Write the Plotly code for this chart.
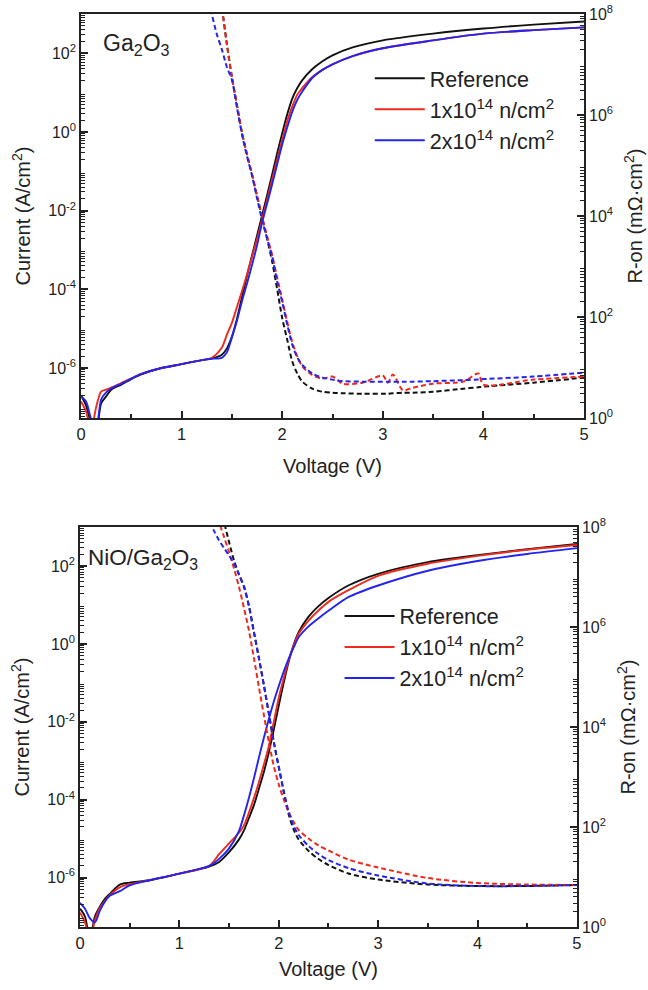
import numpy as np
import plotly.graph_objects as go

# ---------------- Ga2O3 panel ----------------
# Forward current density, stored as log10(J [A/cm^2])
v_ga_iv = [0, 0.05, 0.1, 0.15, 0.2, 0.25, 0.3, 0.4, 0.5, 0.6, 0.8, 1.0, 1.2, 1.3, 1.4, 1.45,
           1.5, 1.55, 1.6, 1.65, 1.7, 1.75, 1.8, 1.85, 1.9, 1.95, 2.0, 2.05, 2.1, 2.15, 2.2,
           2.3, 2.4, 2.5, 2.7, 3.0, 3.5, 4.0, 4.5, 5.0]
logj_ga_ref = [-6.70, -6.95, -7.4, -7.6, -6.9, -6.72, -6.55, -6.42, -6.28, -6.16, -6.0, -5.9, -5.8,
               -5.76, -5.66, -5.5, -5.2, -4.75, -4.2, -3.65, -3.14, -2.63, -2.12, -1.61, -1.08,
               -0.54, -0.03, 0.45, 0.85, 1.12, 1.32, 1.6, 1.8, 1.95, 2.15, 2.33, 2.5, 2.63, 2.73, 2.81]
logj_ga_1e14 = [-6.85, -7.1, -7.6, -7.0, -6.6, -6.55, -6.5, -6.38, -6.26, -6.15, -6.0, -5.9, -5.8,
                -5.74, -5.48, -5.15, -4.85, -4.45, -4.05, -3.62, -3.17, -2.72, -2.22, -1.72, -1.2,
                -0.7, -0.2, 0.28, 0.65, 0.95, 1.12, 1.4, 1.58, 1.72, 1.93, 2.13, 2.33, 2.5, 2.59, 2.66]
logj_ga_2e14 = [-6.72, -6.85, -7.3, -7.6, -6.8, -6.62, -6.52, -6.4, -6.27, -6.15, -6.0, -5.9, -5.8,
                -5.76, -5.74, -5.6, -5.22, -4.8, -4.3, -3.85, -3.38, -2.88, -2.3, -1.82, -1.33,
                -0.82, -0.32, 0.12, 0.52, 0.82, 1.03, 1.38, 1.58, 1.72, 1.93, 2.13, 2.33, 2.5, 2.59, 2.66]

# Specific on-resistance, stored as log10(R [mOhm cm^2])
v_ga_ron = [1.25, 1.3, 1.35, 1.4, 1.45, 1.5, 1.55, 1.6, 1.65, 1.7, 1.75, 1.8, 1.85, 1.9, 1.95,
            2.0, 2.05, 2.1, 2.15, 2.2, 2.3, 2.4, 2.5, 2.6, 2.8, 3.0, 3.05, 3.1, 3.2, 3.3, 3.5,
            3.8, 3.95, 4.0, 4.5, 5.0]
logr_ga_ref = [9.5, 9.2, 8.5, 8.1, 7.4, 6.75, 6.2, 5.65, 5.22, 4.82, 4.4, 3.98, 3.55, 3.1, 2.55,
               1.98, 1.55, 1.12, 0.88, 0.72, 0.58, 0.52, 0.5, 0.49, 0.48, 0.48, 0.48, 0.49, 0.5,
               0.5, 0.52, 0.58, 0.61, 0.62, 0.7, 0.8]
logr_ga_1e14 = [9.5, 9.2, 8.5, 8.1, 7.4, 6.75, 6.2, 5.65, 5.22, 4.82, 4.4, 3.98, 3.6, 3.22, 2.78,
                2.35, 1.9, 1.5, 1.22, 1.02, 0.85, 0.78, 0.82, 0.68, 0.7, 0.84, 0.7, 0.86, 0.55,
                0.6, 0.68, 0.72, 0.88, 0.66, 0.76, 0.82]
logr_ga_2e14 = [8.4, 8.0, 7.6, 7.3, 6.95, 6.7, 6.15, 5.62, 5.18, 4.8, 4.35, 3.92, 3.55, 3.2, 2.7,
                2.3, 1.85, 1.45, 1.2, 1.05, 0.88, 0.8, 0.76, 0.73, 0.72, 0.72, 0.72, 0.72, 0.72,
                0.72, 0.73, 0.75, 0.76, 0.77, 0.82, 0.9]

# ---------------- NiO/Ga2O3 panel ----------------
v_nio_iv = [0, 0.05, 0.1, 0.15, 0.2, 0.25, 0.3, 0.4, 0.5, 0.7, 1.0, 1.3, 1.4, 1.5, 1.6, 1.65,
            1.7, 1.75, 1.8, 1.85, 1.9, 1.95, 2.0, 2.05, 2.1, 2.15, 2.2, 2.3, 2.4, 2.5, 2.7, 3.0,
            3.5, 4.0, 4.5, 5.0]
logj_nio_ref = [-6.8, -7.0, -7.6, -7.0, -6.75, -6.55, -6.42, -6.18, -6.13, -6.07, -5.9, -5.72,
                -5.6, -5.35, -5.02, -4.79, -4.47, -4.14, -3.72, -3.29, -2.78, -2.2, -1.58, -0.99,
                -0.45, -0.02, 0.3, 0.7, 0.97, 1.18, 1.5, 1.8, 2.1, 2.28, 2.43, 2.57]
logj_nio_1e14 = [-6.9, -7.15, -7.6, -7.1, -6.78, -6.6, -6.45, -6.25, -6.17, -6.07, -5.9, -5.7,
                 -5.4, -5.12, -4.85, -4.66, -4.33, -3.96, -3.55, -3.1, -2.62, -2.0, -1.38, -0.88,
                 -0.42, -0.04, 0.26, 0.6, 0.86, 1.08, 1.38, 1.75, 2.06, 2.26, 2.42, 2.54]
logj_nio_2e14 = [-6.65, -6.8, -7.05, -7.15, -6.85, -6.62, -6.47, -6.35, -6.2, -6.07, -5.9, -5.7,
                 -5.52, -5.25, -4.8, -4.4, -3.95, -3.45, -2.92, -2.41, -1.93, -1.48, -1.08, -0.71,
                 -0.38, -0.09, 0.17, 0.45, 0.66, 0.85, 1.2, 1.5, 1.88, 2.13, 2.31, 2.46]

v_nio_ron = [1.3, 1.35, 1.4, 1.45, 1.5, 1.55, 1.6, 1.65, 1.7, 1.75, 1.8, 1.85, 1.9, 1.95, 2.0,
             2.05, 2.1, 2.15, 2.2, 2.3, 2.4, 2.5, 2.7, 3.0, 3.5, 4.0, 4.5, 5.0]
logr_nio_ref = [9.3, 9.0, 8.5, 8.1, 7.7, 7.33, 7.05, 6.8, 6.42, 5.9, 5.38, 4.84, 4.27, 3.7, 3.2,
                2.7, 2.25, 1.95, 1.75, 1.52, 1.36, 1.24, 1.07, 0.95, 0.85, 0.82, 0.82, 0.84]
logr_nio_1e14 = [8.8, 8.45, 8.1, 7.8, 7.5, 7.17, 6.8, 6.38, 5.93, 5.38, 4.8, 4.24, 3.7, 3.22,
                 2.85, 2.55, 2.3, 2.1, 1.94, 1.77, 1.63, 1.53, 1.35, 1.19, 0.98, 0.88, 0.85, 0.84]
logr_nio_2e14 = [8.1, 7.92, 7.73, 7.58, 7.43, 7.27, 7.05, 6.82, 6.42, 5.9, 5.38, 4.84, 4.27, 3.7,
                 3.2, 2.72, 2.3, 2.02, 1.84, 1.62, 1.46, 1.34, 1.18, 1.03, 0.87, 0.82, 0.82, 0.84]

series_names = ["Reference", "1x10<sup>14</sup> n/cm<sup>2</sup>", "2x10<sup>14</sup> n/cm<sup>2</sup>"]
series_colors = ["#111111", "#ee2a1e", "#2424f0"]

# Axis ticks: every decade gets a long tick, every second decade a label
x_tickvals = [0, 1, 2, 3, 4, 5]
j_label_exp = [-6, -4, -2, 0, 2]
j_plain_exp = [-7, -5, -3, -1, 1, 3]
r_label_exp = [0, 2, 4, 6, 8]
r_plain_exp = [1, 3, 5, 7]

FONT = "Arial, Liberation Sans, Helvetica, sans-serif"
INK = "#222222"

fig = go.Figure()

panels = [
    dict(x="x", yj="y", yr="y2", legend="legend",
         v_iv=v_ga_iv, logj=[logj_ga_ref, logj_ga_1e14, logj_ga_2e14],
         v_ron=v_ga_ron, logr=[logr_ga_ref, logr_ga_1e14, logr_ga_2e14]),
    dict(x="x2", yj="y3", yr="y4", legend="legend2",
         v_iv=v_nio_iv, logj=[logj_nio_ref, logj_nio_1e14, logj_nio_2e14],
         v_ron=v_nio_ron, logr=[logr_nio_ref, logr_nio_1e14, logr_nio_2e14]),
]

for p in panels:
    for name, color, lj in zip(series_names, series_colors, p["logj"]):
        fig.add_trace(go.Scatter(
            x=p["v_iv"], y=np.power(10.0, lj), mode="lines", name=name,
            line=dict(color=color, width=1.9, shape="spline", smoothing=0.8),
            xaxis=p["x"], yaxis=p["yj"], legend=p["legend"], showlegend=True))
    for name, color, lr in zip(series_names, series_colors, p["logr"]):
        fig.add_trace(go.Scatter(
            x=p["v_ron"], y=np.power(10.0, lr), mode="lines", name=name,
            line=dict(color=color, width=2.0, dash="5px,3px", shape="spline", smoothing=0.8),
            xaxis=p["x"], yaxis=p["yr"], legend=p["legend"], showlegend=False))

minor_log = [m * 10.0 ** e for e in range(-8, 9) for m in range(2, 10)]
TICKLEN, MINORLEN = 7, 4

def x_axis(domain, anchor, standoff):
    return dict(domain=domain, anchor=anchor, range=[0, 5], tickmode="array", tickvals=x_tickvals,
                ticks="inside", ticklen=TICKLEN, tickwidth=1.5, tickcolor=INK,
                minor=dict(dtick=0.5, tick0=0, ticks="inside", ticklen=MINORLEN, tickwidth=1.5,
                           tickcolor=INK),
                showline=True, linewidth=1.6, linecolor=INK, mirror=True,
                showgrid=False, zeroline=False, automargin=False,
                tickfont=dict(family=FONT, size=16.5, color=INK),
                title=dict(text="Voltage (V)", font=dict(family=FONT, size=20, color=INK),
                           standoff=standoff))

def log_axis(rng, label_exp, side, title, standoff):
    return dict(type="log", range=rng, side=side,
                tickmode="array", tickvals=[10.0 ** e for e in label_exp],
                ticktext=["10<sup>%d</sup>" % e for e in label_exp],
                ticks="inside", ticklen=TICKLEN, tickwidth=1.5, tickcolor=INK,
                minor=dict(tickmode="array", tickvals=minor_log, ticks="inside", ticklen=MINORLEN,
                           tickwidth=1, tickcolor=INK),
                showline=True, linewidth=1.6, linecolor=INK, showgrid=False, zeroline=False,
                automargin=False,
                tickfont=dict(family=FONT, size=16, color=INK),
                title=dict(text=title, font=dict(family=FONT, size=20, color=INK), standoff=standoff))

def odd_decades(rng, plain_exp, side, overlay, anchor):
    # unlabeled long ticks on the decades between the labelled ones
    return dict(type="log", range=rng, side=side, overlaying=overlay, anchor=anchor,
                tickmode="array", tickvals=[10.0 ** e for e in plain_exp], showticklabels=False,
                ticks="inside", ticklen=TICKLEN, tickwidth=1.5, tickcolor=INK,
                showline=False, showgrid=False, zeroline=False, automargin=False)

J_RANGE = [-7.27, 3]
R_RANGE = [0, 8]
J_TITLE = "Current (A/cm<sup>2</sup>)"
R_TITLE = "R-on (m\u03a9\u00b7cm<sup>2</sup>)"

legend_style = dict(font=dict(family=FONT, size=21.5, color=INK), bgcolor="rgba(0,0,0,0)",
                    borderwidth=0, xanchor="left", yanchor="top", itemwidth=50,
                    tracegroupgap=0)

fig.update_layout(
    width=648, height=990,
    margin=dict(l=80, r=64, t=14, b=63),
    paper_bgcolor="white", plot_bgcolor="white",
    font=dict(family=FONT, color=INK),
    xaxis=x_axis([0.002, 1.0], "y", 17),
    yaxis=dict(domain=[0.5575, 1.0], anchor="x", **log_axis(J_RANGE, j_label_exp, "left", J_TITLE, 12)),
    yaxis2=dict(overlaying="y", anchor="x", **log_axis(R_RANGE, r_label_exp, "right", R_TITLE, 16)),
    yaxis5=odd_decades(J_RANGE, j_plain_exp, "left", "y", "x"),
    yaxis6=odd_decades(R_RANGE, r_plain_exp, "right", "y", "x"),
    xaxis2=x_axis([0.0, 0.986], "y3", 11),
    yaxis3=dict(domain=[0.0, 0.438], anchor="x2", **log_axis(J_RANGE, j_label_exp, "left", J_TITLE, 12)),
    yaxis4=dict(overlaying="y3", anchor="x2", **log_axis(R_RANGE, r_label_exp, "right", R_TITLE, 16)),
    yaxis7=odd_decades(J_RANGE, j_plain_exp, "left", "y3", "x2"),
    yaxis8=odd_decades(R_RANGE, r_plain_exp, "right", "y3", "x2"),
    legend=dict(x=0.575, y=0.952, **legend_style),
    legend2=dict(x=0.515, y=0.363, **legend_style),
    annotations=[
        dict(text="Ga<sub>2</sub>O<sub>3</sub>", xref="paper", yref="paper", x=0.042, y=0.967,
             xanchor="left", yanchor="middle", showarrow=False,
             font=dict(family=FONT, size=23, color=INK)),
        dict(text="NiO/Ga<sub>2</sub>O<sub>3</sub>", xref="paper", yref="paper", x=0.012, y=0.403,
             xanchor="left", yanchor="middle", showarrow=False,
             font=dict(family=FONT, size=22.5, color=INK)),
    ],
)

fig.write_html("out.html")
